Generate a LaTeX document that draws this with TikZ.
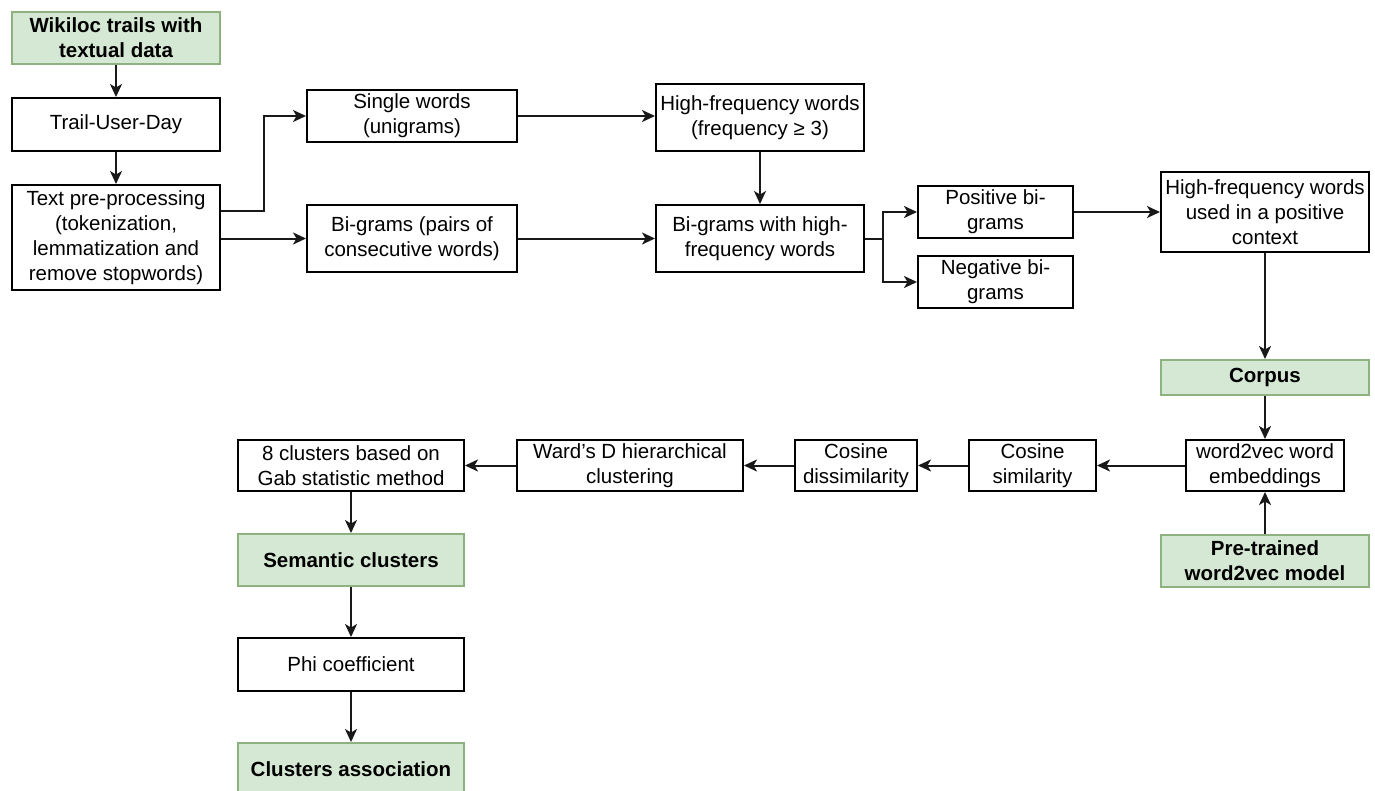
\documentclass[tikz,border=0pt]{standalone}
\usepackage{fontspec}
\setmainfont{Liberation Sans}
\usetikzlibrary{arrows.meta,calc}
\definecolor{gfill}{HTML}{D5E8D4}
\definecolor{gdraw}{HTML}{8DB27F}
\begin{document}
\begin{tikzpicture}[x=1pt,y=-1pt,
  font=\fontsize{20.5}{25}\selectfont,
  box/.style={draw=black,line width=2pt,fill=white,inner sep=0pt,align=center,
    minimum width=208pt,minimum height=52pt},
  gbox/.style={box,draw=gdraw,fill=gfill,font=\fontsize{20.5}{25}\selectfont\bfseries},
  lin/.style={line width=2pt,draw=black!90},
  arr/.style={lin,-{Stealth[length=13pt,width=12pt,inset=3.5pt]}}]
\useasboundingbox (0,0) rectangle (1375,790);
% nodes
\node[gbox] (wiki) at (116,38) {Wikiloc trails with\\textual data};
\node[box,minimum height=53pt] (tud) at (116,124.5) {Trail-User-Day};
\node[box,minimum height=105pt] (tpp) at (116,237.5) {Text pre-processing\\(tokenization,\\lemmatization and\\remove stopwords)};
\node[box,minimum width=210pt] (sw) at (412,116) {Single words\\(unigrams)};
\node[box,minimum width=210pt,minimum height=67pt] (bp) at (412,238.5) {Bi-grams (pairs of\\consecutive words)};
\node[box,minimum height=67pt] (hf) at (760,117.5) {High-frequency words\\(frequency ≥ 3)};
\node[box,minimum height=67pt] (bh) at (760,238.5) {Bi-grams with high-\\frequency words};
\node[box,minimum width=155pt] (pos) at (995.5,212) {Positive bi-\\grams};
\node[box,minimum width=155pt] (neg) at (995.5,282) {Negative bi-\\grams};
\node[box,minimum height=80pt] (hfu) at (1265,212) {High-frequency words\\used in a positive\\context};
\node[gbox,minimum height=35pt] (corpus) at (1265,377.5) {Corpus};
\node[box,minimum width=158pt,minimum height=51pt] (w2v) at (1265,465.5) {word2vec word\\embeddings};
\node[gbox] (pre) at (1265,561) {Pre-trained\\word2vec model};
\node[box,minimum width=127pt,minimum height=51pt] (cs) at (1032.5,465.5) {Cosine\\similarity};
\node[box,minimum width=122pt,minimum height=51pt] (cd) at (856,465.5) {Cosine\\dissimilarity};
\node[box,minimum width=226pt,minimum height=51pt] (ward) at (630,465.5) {Ward{\char"0027}s D hierarchical\\clustering};
\node[box,minimum width=226pt,minimum height=51pt] (c8) at (351,465.5) {8 clusters based on\\Gab statistic method};
\node[gbox,minimum width=226pt] (sem) at (351,560) {Semantic clusters};
\node[box,minimum width=226pt,minimum height=53pt] (phi) at (351,664.5) {Phi coefficient};
\node[gbox,minimum width=226pt] (ca) at (351,769) {Clusters association};
% connectors
\draw[arr] (wiki) -- (tud);
\draw[arr] (tud) -- (tpp);
\draw[arr] ([yshift=26.5pt]tpp.east) -- ++(43pt,0) |- (sw.west);
\draw[arr] (tpp.east |- bp.west) -- (bp.west);
\draw[arr] (sw.east) -- (sw.east -| hf.west);
\draw[arr] (hf) -- (bh);
\draw[arr] (bp) -- (bh);
\draw[lin] (bh.east) -- ++(18pt,0) coordinate (br);
\draw[arr] (br) |- (pos.west);
\draw[arr] (br) |- (neg.west);
\draw[arr] (pos.east) -- (pos.east -| hfu.west);
\draw[arr] (hfu) -- (corpus);
\draw[arr] (corpus) -- (w2v);
\draw[arr] (pre) -- (w2v);
\draw[arr] (w2v) -- (cs);
\draw[arr] (cs) -- (cd);
\draw[arr] (cd) -- (ward);
\draw[arr] (ward) -- (c8);
\draw[arr] (c8) -- (sem);
\draw[arr] (sem) -- (phi);
\draw[arr] (phi) -- (ca);
\end{tikzpicture}
\end{document}
